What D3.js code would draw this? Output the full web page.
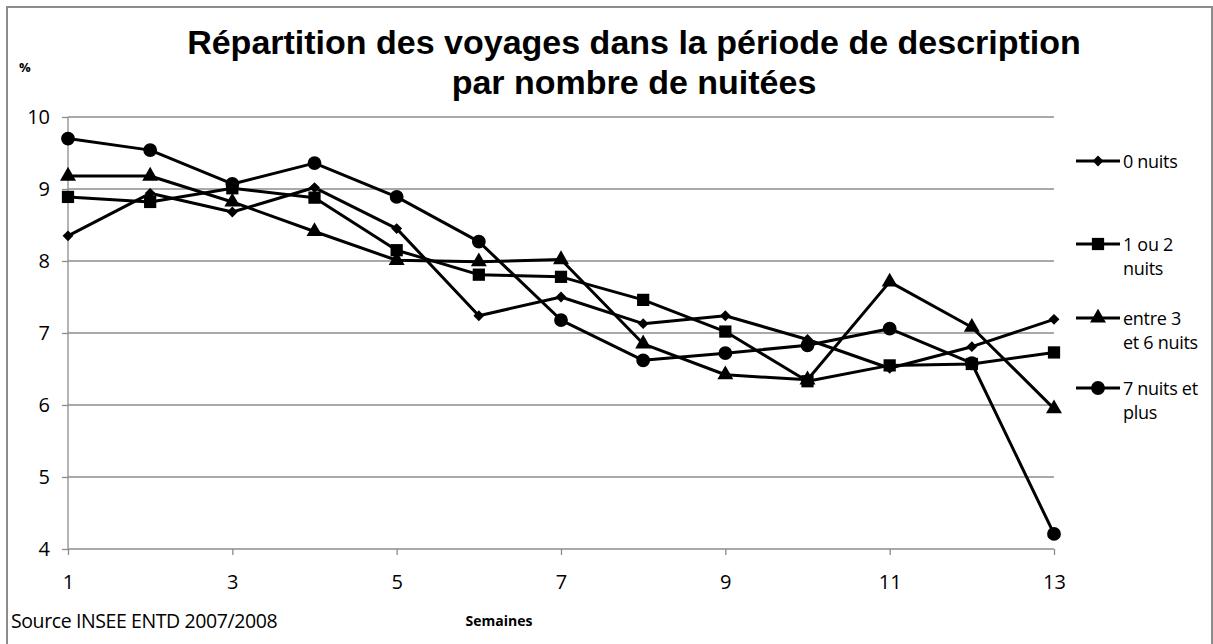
<!DOCTYPE html>
<html><head><meta charset="utf-8">
<script src="https://cdn.jsdelivr.net/npm/d3@7"></script>
<style>body{margin:0;background:#fff;} text{font-family:"Open Sans","Liberation Sans",sans-serif;}</style>
</head><body><svg id="c" width="1213" height="644"></svg>
<script>
const weeks = [1,2,3,4,5,6,7,8,9,10,11,12,13];
const s0 = [8.35,8.94,8.68,9.02,8.45,7.24,7.50,7.13,7.24,6.91,6.51,6.81,7.19];
const s1 = [8.89,8.82,9.01,8.88,8.15,7.81,7.78,7.46,7.02,6.33,6.55,6.57,6.73];
const s2 = [9.18,9.18,8.82,8.41,8.01,7.99,8.02,6.85,6.42,6.35,7.71,7.08,5.95];
const s3 = [9.70,9.54,9.07,9.36,8.89,8.27,7.18,6.62,6.72,6.83,7.06,6.58,4.21];
const seriesNames = ["0 nuits","1 ou 2\nnuits","entre 3\net 6 nuits","7 nuits et\nplus"];
const yTicks = [4,5,6,7,8,9,10];
const xTicks = [1,3,5,7,9,11,13];
const series = [s0,s1,s2,s3];
const symbols = [d3.symbolDiamond2, d3.symbolSquare, d3.symbolTriangle, d3.symbolCircle];
const symSizes = [75,150,110,150];
const FONT = "'Open Sans',sans-serif";

const svg = d3.select("#c");
svg.append("rect").attr("x",7).attr("y",7).attr("width",1205).attr("height",650)
  .attr("fill","#fff").attr("stroke","#8c8c8c").attr("stroke-width",2);

const x = d3.scaleLinear().domain([1,13]).range([68,1054]);
const y = d3.scaleLinear().domain([4,10]).range([549,117]);

svg.append("g").selectAll("line").data(yTicks.filter(d=>d>4)).join("line")
  .attr("x1",68).attr("x2",1054).attr("y1",d=>y(d)).attr("y2",d=>y(d))
  .attr("stroke","#8c8c8c").attr("stroke-width",1.3);

const yAxis = svg.append("g").attr("transform","translate(68,0)")
  .call(d3.axisLeft(y).tickValues(yTicks).tickSize(6).tickPadding(12).tickFormat(d3.format("d")));
yAxis.attr("font-family",FONT).attr("font-size",20);
yAxis.select(".domain").attr("stroke","#8c8c8c").attr("stroke-width",1.3).attr("d","M0,117V549");
yAxis.selectAll(".tick line").attr("stroke","#8c8c8c").attr("stroke-width",1.3);
yAxis.selectAll("text").attr("fill","#000");

const xAxis = svg.append("g").attr("transform","translate(0,549)")
  .call(d3.axisBottom(x).tickValues(xTicks).tickSize(6).tickPadding(20).tickFormat(d3.format("d")));
xAxis.attr("font-family",FONT).attr("font-size",20);
xAxis.select(".domain").attr("stroke","#8c8c8c").attr("stroke-width",1.3).attr("d","M68,0H1054");
xAxis.selectAll(".tick line").attr("stroke","#8c8c8c").attr("stroke-width",1.3);
xAxis.selectAll("text").attr("fill","#000");

const line = d3.line().x((d,i)=>x(weeks[i])).y(d=>y(d));
series.forEach((s,k)=>{
  const g = svg.append("g");
  g.append("path").datum(s).attr("d",line).attr("fill","none").attr("stroke","#000").attr("stroke-width",3).attr("stroke-linejoin","round");
  g.selectAll("path.m").data(s).join("path").attr("class","m")
    .attr("transform",(d,i)=>`translate(${x(weeks[i])},${y(d)})`)
    .attr("d",d3.symbol().type(symbols[k]).size(symSizes[k])).attr("fill","#000");
});

// legend
const legY = [161,244,318,388];
series.forEach((s,k)=>{
  const g = svg.append("g").attr("transform",`translate(1076,${legY[k]})`);
  g.append("line").attr("x1",0).attr("x2",44).attr("y1",0).attr("y2",0).attr("stroke","#000").attr("stroke-width",3);
  g.append("path").attr("transform","translate(22,0)").attr("d",d3.symbol().type(symbols[k]).size(symSizes[k])).attr("fill","#000");
  const lines = seriesNames[k].split("\n");
  const t = g.append("text").attr("x",47).attr("y",7).attr("font-size",18).attr("fill","#000").attr("letter-spacing","-0.3");
  lines.forEach((l,i)=>t.append("tspan").attr("x",47).attr("dy",i===0?0:24).text(l));
});

// title
const title = svg.append("text").attr("x",634).attr("text-anchor","middle").attr("font-weight","bold").attr("fill","#000")
  .style("font-family","'Liberation Sans',Arial,sans-serif");
title.append("tspan").attr("x",634).attr("y",54).text("Répartition des voyages dans la période de description");
title.append("tspan").attr("x",634).attr("y",94).text("par nombre de nuitées");
title.attr("font-size",30);
const w = title.select("tspan").node().getComputedTextLength();
title.attr("font-size", Math.min(34, 30*906/w));

svg.append("text").attr("x",19).attr("y",72).attr("font-size",13).attr("font-weight","bold").text("%");
svg.append("text").attr("x",11).attr("y",628).attr("font-size",19.5).attr("letter-spacing","-0.4").text("Source INSEE ENTD 2007/2008");
svg.append("text").attr("x",499).attr("y",626).attr("text-anchor","middle").attr("font-size",14).attr("font-weight","bold").text("Semaines");
</script></body></html>
